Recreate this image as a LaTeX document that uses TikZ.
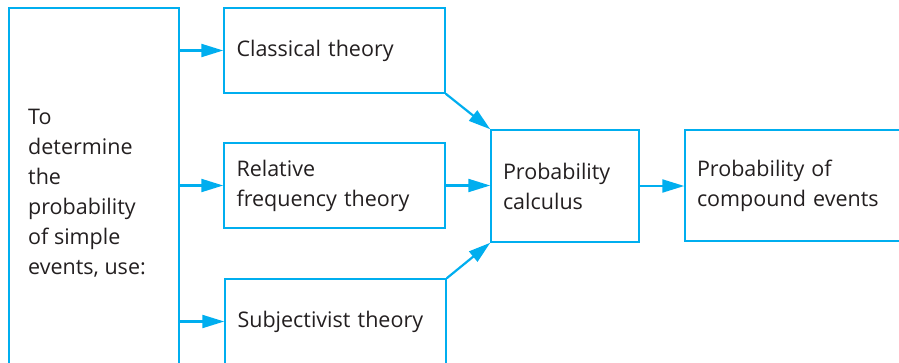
\documentclass[tikz,border=0pt]{standalone}
\usepackage{fontspec}
\setmainfont{Open Sans}
\usetikzlibrary{arrows.meta}
\definecolor{linecyan}{HTML}{00AEEF}
\definecolor{txt}{HTML}{231F20}
\tikzset{
  box/.style={draw=linecyan, line width=1.5pt, rectangle, inner xsep=12pt, inner ysep=0pt,
    align=left, anchor=center, text=txt,
    font=\fontsize{21.5}{30}\selectfont},
  conn/.style={draw=linecyan, line width=2.2pt,
    -{Triangle[length=22pt,width=13pt]}},
}
\begin{document}
\begin{tikzpicture}[x=1pt,y=-1pt]
\useasboundingbox (0,0) rectangle (899,362);
\clip (0,0) rectangle (899,362);
% left box
\node[box, minimum width=170pt, minimum height=380pt] (src) at (94,198) {};
\node[anchor=north west, inner sep=0pt, align=left, text=txt,
  font=\fontsize{21.5}{30}\selectfont] (srctext) at (28,109)
  {To\\determine\\the\\probability\\of simple\\events, use:};
% theories
\node[box, minimum width=221pt, minimum height=85pt, text width=196pt] (cl) at (334.5,50.5) {Classical theory};
\node[box, minimum width=221pt, minimum height=85pt, text width=196pt] (rel) at (334.5,185.5) {Relative\\frequency theory};
\node[box, minimum width=221pt, minimum height=85pt, text width=196pt] (subj) at (335.5,321.5) {Subjectivist theory};
% calculus
\node[box, minimum width=148pt, minimum height=112pt, text width=124pt] (calc) at (565,186) {Probability\\calculus};
% compound
\node[box, minimum width=235pt, minimum height=111pt, text width=211pt] (comp) at (802.5,185.5) {Probability of\\compound events};
% connectors
\draw[conn] (src.east |- cl.west) -- (cl.west);
\draw[conn] (src.east |- rel.west) -- (rel.west);
\draw[conn] (src.east |- subj.west) -- (subj.west);
\draw[conn] (cl.south east) -- (calc.north west);
\draw[conn] (rel.east) -- (rel.east -| calc.west);
\draw[conn] (subj.north east) -- (calc.south west);
\draw[conn] (calc.east) -- (calc.east -| comp.west);
\end{tikzpicture}
\end{document}
